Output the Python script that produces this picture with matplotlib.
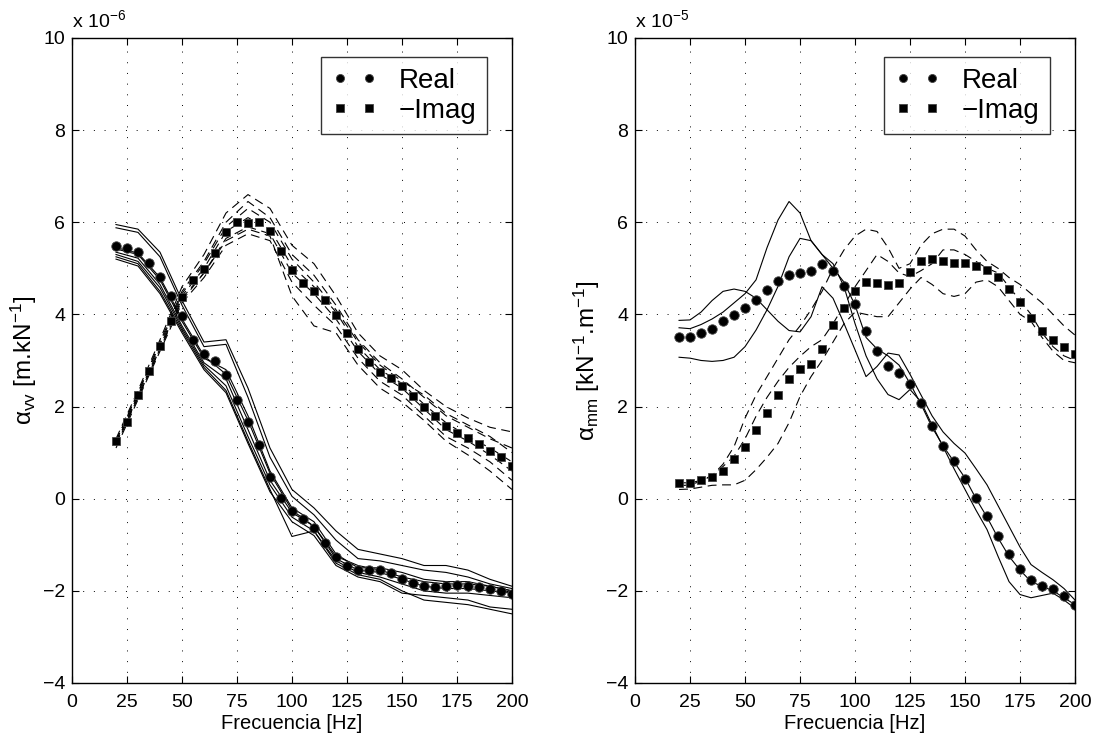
import numpy as np
import matplotlib
matplotlib.use("Agg")
import matplotlib.pyplot as plt

plt.rcParams['font.family'] = ['Liberation Sans', 'DejaVu Sans']
plt.rcParams['mathtext.fontset'] = 'custom'
plt.rcParams['mathtext.rm'] = 'Liberation Sans'
plt.rcParams['mathtext.it'] = 'Liberation Sans:italic'

# frequencies of the averaged data (Hz)
freq = np.arange(20, 201, 5)
freq10 = np.arange(20, 201, 10)

# ---- left panel: alpha_vv (x 1e-6) ----
vv_real = [5.49, 5.45, 5.36, 5.12, 4.82, 4.40, 3.96, 3.45, 3.15, 2.99, 2.68, 2.15, 1.66,
           1.16, 0.48, 0.02, -0.26, -0.43, -0.63, -0.96, -1.26, -1.47, -1.54, -1.55, -1.55,
           -1.61, -1.74, -1.82, -1.89, -1.91, -1.90, -1.87, -1.89, -1.91, -1.95, -2.00, -2.07]
vv_imag = [1.26, 1.67, 2.26, 2.78, 3.32, 3.86, 4.38, 4.75, 4.99, 5.34, 5.78, 6.01, 5.99,
           6.00, 5.80, 5.38, 4.97, 4.68, 4.51, 4.32, 3.99, 3.60, 3.25, 2.96, 2.75,
           2.61, 2.45, 2.22, 2.00, 1.79, 1.58, 1.43, 1.32, 1.19, 1.04, 0.90, 0.70]

# individual measurements (10 Hz steps)
vv_real_runs = [
    [5.95, 5.85, 5.35, 4.30, 3.40, 3.45, 2.40, 1.10, 0.20, -0.20, -0.70, -1.10, -1.20, -1.30, -1.45, -1.45, -1.55, -1.75, -1.90],
    [5.88, 5.78, 5.25, 4.20, 3.30, 3.35, 2.20, 0.90, 0.05, -0.35, -0.90, -1.30, -1.35, -1.45, -1.55, -1.60, -1.70, -1.85, -1.95],
    [5.42, 5.30, 4.75, 3.85, 3.05, 2.80, 1.80, 0.60, -0.20, -0.50, -1.20, -1.50, -1.50, -1.60, -1.75, -1.80, -1.80, -1.90, -2.00],
    [5.35, 5.22, 4.65, 3.75, 2.95, 2.60, 1.50, 0.40, -0.30, -0.60, -1.30, -1.55, -1.60, -1.75, -1.90, -1.95, -1.95, -2.00, -2.05],
    [5.30, 5.15, 4.58, 3.70, 2.90, 2.45, 1.35, 0.30, -0.40, -0.70, -1.35, -1.60, -1.70, -1.85, -2.00, -2.05, -2.05, -2.10, -2.15],
    [5.25, 5.10, 4.50, 3.65, 2.85, 2.35, 1.25, 0.20, -0.82, -0.70, -1.40, -1.65, -1.75, -2.00, -2.20, -2.25, -2.30, -2.40, -2.50],
    [5.20, 5.05, 4.45, 3.60, 2.80, 2.30, 1.20, 0.15, -0.50, -0.80, -1.45, -1.70, -1.80, -2.05, -2.10, -2.15, -2.20, -2.35, -2.40],
    [5.45, 5.33, 4.80, 3.90, 3.10, 2.70, 1.70, 0.55, -0.25, -0.60, -1.25, -1.45, -1.55, -1.70, -1.80, -1.85, -1.85, -1.90, -2.00],
]
vv_imag_runs = [
    [1.30, 2.35, 3.45, 4.60, 5.30, 6.20, 6.60, 6.30, 5.50, 5.10, 4.40, 3.60, 3.10, 2.80, 2.35, 2.00, 1.75, 1.55, 1.45],
    [1.25, 2.30, 3.40, 4.50, 5.15, 6.00, 6.45, 6.10, 5.30, 4.85, 4.20, 3.45, 2.95, 2.60, 2.20, 1.80, 1.55, 1.30, 1.10],
    [1.20, 2.25, 3.30, 4.40, 5.00, 5.80, 6.10, 5.85, 5.05, 4.60, 4.05, 3.30, 2.80, 2.50, 2.05, 1.65, 1.35, 1.10, 0.80],
    [1.15, 2.20, 3.25, 4.30, 4.90, 5.65, 5.90, 5.75, 4.90, 4.45, 3.90, 3.20, 2.70, 2.40, 1.95, 1.50, 1.25, 0.95, 0.60],
    [1.10, 2.15, 3.20, 4.25, 4.80, 5.50, 5.75, 5.60, 4.70, 4.20, 3.75, 3.05, 2.55, 2.25, 1.80, 1.35, 1.10, 0.80, 0.40],
    [1.20, 2.20, 3.25, 4.35, 4.90, 5.60, 5.85, 5.70, 4.40, 3.75, 3.60, 2.90, 2.40, 2.10, 1.70, 1.25, 0.95, 0.60, 0.20],
    [1.25, 2.30, 3.35, 4.45, 5.10, 5.90, 6.30, 6.00, 5.20, 4.70, 4.10, 3.40, 2.90, 2.55, 2.25, 1.85, 1.60, 1.35, 1.00],
]

# ---- right panel: alpha_mm (x 1e-5) ----
mm_real = [3.52, 3.52, 3.59, 3.69, 3.86, 3.99, 4.14, 4.32, 4.52, 4.73, 4.86, 4.90, 4.95,
           5.10, 4.95, 4.62, 4.22, 3.65, 3.20, 2.89, 2.73, 2.49, 2.08, 1.57, 1.15,
           0.81, 0.43, 0.01, -0.38, -0.82, -1.21, -1.53, -1.76, -1.89, -1.97, -2.12, -2.30]
mm_imag = [0.33, 0.33, 0.40, 0.46, 0.61, 0.86, 1.13, 1.49, 1.86, 2.26, 2.60, 2.82, 2.93,
           3.25, 3.77, 4.14, 4.50, 4.71, 4.69, 4.64, 4.69, 4.91, 5.15, 5.21, 5.15,
           5.11, 5.11, 5.04, 4.97, 4.81, 4.55, 4.26, 3.93, 3.63, 3.45, 3.29, 3.14]

mm_real_runs = [
    [3.87, 3.88, 4.05, 4.30, 4.50, 4.55, 4.50, 4.35, 4.10, 3.85, 3.65, 3.62, 3.95, 4.60, 4.35, 3.80, 3.23, 2.65, 2.87,
     3.16, 3.12, 2.70, 2.25, 1.80, 1.45, 1.20, 0.99, 0.65, 0.30, -0.15, -0.60, -1.05, -1.43, -1.60, -1.76, -1.95, -2.20],
    [3.07, 3.05, 3.00, 2.98, 3.00, 3.07, 3.30, 3.66, 4.10, 4.61, 5.25, 5.65, 5.60, 5.30, 5.10, 4.60, 3.80, 3.10, 2.60,
     2.26, 2.15, 2.37, 2.10, 1.60, 1.13, 0.65, 0.20, -0.25, -0.67, -1.25, -1.80, -2.08, -2.15, -2.10, -2.05, -2.20, -2.38],
    [3.71, 3.69, 3.78, 3.90, 4.05, 4.25, 4.45, 4.75, 5.45, 6.05, 6.45, 6.20, 5.60, 5.30, 5.00, 4.70, 4.20, 3.50, 3.25,
     3.10, 2.90, 2.50, 2.05, 1.55, 1.15, 0.80, 0.45, 0.00, -0.40, -0.85, -1.25, -1.55, -1.80, -1.90, -2.00, -2.15, -2.30],
]
mm_imag_runs = [
    [0.35, 0.34, 0.40, 0.50, 0.75, 1.13, 1.75, 2.25, 2.65, 3.05, 3.45, 3.75, 4.10, 4.50, 5.00, 5.40, 5.70, 5.85, 5.80,
     5.45, 5.00, 5.10, 5.50, 5.75, 5.85, 5.85, 5.70, 5.40, 5.15, 5.00, 4.80, 4.65, 4.45, 4.25, 4.00, 3.75, 3.55],
    [0.28, 0.30, 0.38, 0.50, 0.70, 0.92, 1.30, 1.79, 2.20, 2.55, 2.85, 3.09, 3.30, 3.45, 3.80, 4.20, 4.60, 4.95, 5.30,
     5.15, 4.90, 4.82, 4.95, 5.10, 5.40, 5.40, 5.30, 5.15, 5.00, 4.90, 4.60, 4.30, 4.00, 3.60, 3.30, 3.10, 3.00],
    [0.20, 0.21, 0.25, 0.29, 0.30, 0.30, 0.40, 0.63, 0.90, 1.20, 1.65, 2.22, 2.65, 3.00, 3.40, 3.80, 4.05, 4.00, 3.95,
     3.95, 4.25, 4.55, 4.80, 4.65, 4.45, 4.39, 4.45, 4.70, 4.75, 4.60, 4.30, 4.00, 3.85, 3.50, 3.20, 3.00, 2.95],
]

fig = plt.figure(figsize=(11.01, 7.44), dpi=100)
ax1 = fig.add_axes([0.0654, 0.082, 0.3996, 0.867])
ax2 = fig.add_axes([0.5768, 0.082, 0.3996, 0.867])


def draw(ax, xr, real_runs, imag_runs, real, imag, ylabel, expo):
    for r in real_runs:
        ax.plot(xr, r, color='black', lw=0.8, ls='-')
    for r in imag_runs:
        ax.plot(xr, r, color='black', lw=0.8, ls=(0, (8, 5)))
    ax.plot(freq, real, 'o', color='black', mec='#444444', mew=0.6, ms=6.8, ls='none', label='Real')
    ax.plot(freq, imag, 's', color='black', mec='#444444', mew=0.6, ms=6.0, ls='none', label='\u2212Imag')
    ax.set_xlim(0, 200)
    ax.set_ylim(-4, 10)
    ax.set_xticks(np.arange(0, 201, 25))
    ax.set_yticks(np.arange(-4, 11, 2))
    ax.set_yticklabels(['\u22124', '\u22122', '0', '2', '4', '6', '8', '10'])
    ax.tick_params(direction='in', length=5, top=True, right=True, labelsize=14, width=0.8)
    ax.tick_params(axis='x', pad=8)
    ax.tick_params(axis='y', pad=5)
    ax.grid(True, color='black', ls=(0, (1, 10)), lw=0.7)
    for s in ax.spines.values():
        s.set_linewidth(1.0)
    ax.set_xlabel('Frecuencia [Hz]', fontsize=14.5, labelpad=2)
    ax.set_ylabel(ylabel, fontsize=17.5, labelpad=3)
    ax.text(0.0, 1.01, 'x 10$^{\\mathregular{-' + expo + '}}$', transform=ax.transAxes,
            fontsize=14, ha='left', va='bottom')
    leg = ax.legend(loc='upper right', bbox_to_anchor=(0.943, 0.9705), borderaxespad=0,
                    fontsize=20, numpoints=2, handlelength=1.65, handletextpad=0.75,
                    labelspacing=0.15, borderpad=0.38, fancybox=False, markerscale=0.85)
    leg.get_frame().set_edgecolor('black')
    leg.get_frame().set_linewidth(1.0)


draw(ax1, freq10, vv_real_runs, vv_imag_runs, vv_real, vv_imag,
     '\u03b1$_{\\mathregular{vv}}$ [m.kN$^{\\mathregular{-1}}$]', '6')
draw(ax2, freq, mm_real_runs, mm_imag_runs, mm_real, mm_imag,
     '\u03b1$_{\\mathregular{mm}}$ [kN$^{\\mathregular{-1}}$.m$^{\\mathregular{-1}}$]', '5')

fig.savefig('out.png', dpi=100)
